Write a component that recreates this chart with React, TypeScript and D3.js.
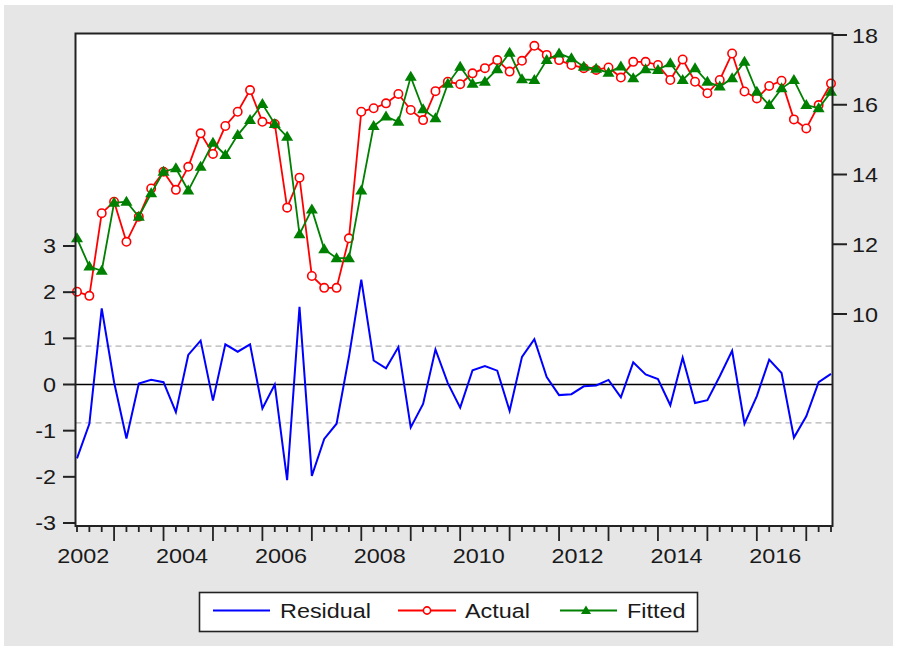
import React from "react";
import * as d3 from "d3";

// Quarterly observations 2002Q2 .. 2017Q3 (62 obs)
const startYear = 2002;
const startQuarter = 2;
const yearLabels = ["2002", "2004", "2006", "2008", "2010", "2012", "2014", "2016"];

const actual = [
  10.64, 10.52, 12.89, 13.22, 12.07, 12.79, 13.6, 14.08, 13.56, 14.22,
  15.18, 14.59, 15.39, 15.8, 16.42, 15.51, 15.45, 13.05, 13.91, 11.09,
  10.75, 10.75, 12.17, 15.8, 15.9, 16.04, 16.31, 15.85, 15.56, 16.39,
  16.66, 16.59, 16.9, 17.05, 17.28, 16.95, 17.26, 17.69, 17.43, 17.28,
  17.14, 17.05, 17.0, 17.07, 16.78, 17.23, 17.23, 17.14, 16.71, 17.3,
  16.66, 16.33, 16.71, 17.47, 16.38, 16.18, 16.54, 16.69, 15.58, 15.32,
  15.99, 16.61,
];

const fitted = [
  12.17, 11.36, 11.24, 13.19, 13.22, 12.79, 13.46, 14.08, 14.18, 13.54,
  14.22, 14.91, 14.56, 15.13, 15.56, 16.02, 15.45, 15.08, 12.29, 13.0,
  11.86, 11.6, 11.6, 13.54, 15.39, 15.66, 15.51, 16.8, 15.87, 15.61,
  16.6, 17.09, 16.6, 16.66, 17.02, 17.49, 16.73, 16.71, 17.28, 17.47,
  17.33, 17.09, 17.03, 16.92, 17.1, 16.76, 17.02, 17.0, 17.19, 16.71,
  17.05, 16.66, 16.52, 16.76, 17.23, 16.37, 15.99, 16.47, 16.71, 15.99,
  15.9, 16.37,
];

const residual = [
  -1.6, -0.85, 1.65, 0.05, -1.17, 0.02, 0.1, 0.05, -0.6, 0.64,
  0.95, -0.35, 0.87, 0.71, 0.87, -0.52, 0.0, -2.07, 1.68, -1.98,
  -1.18, -0.85, 0.6, 2.27, 0.52, 0.35, 0.81, -0.93, -0.42, 0.76,
  0.03, -0.5, 0.31, 0.4, 0.3, -0.57, 0.6, 0.98, 0.16, -0.23,
  -0.21, -0.04, -0.02, 0.1, -0.28, 0.48, 0.22, 0.12, -0.45, 0.58,
  -0.4, -0.34, 0.18, 0.73, -0.85, -0.25, 0.54, 0.25, -1.15, -0.69,
  0.05, 0.23,
];

const residualBand = 0.83;
const leftTicks = [-3, -2, -1, 0, 1, 2, 3];
const rightTicks = [10, 12, 14, 16, 18];

const W = 899;
const H = 652;
const FONT = "'Liberation Sans', Arial, sans-serif";
const SX = 1.2;

export default function App() {
  const n = actual.length;
  const frame = { left: 75.5, right: 832.5, top: 33.5, bottom: 526 };
  const x = d3.scaleLinear().domain([0, n - 1]).range([77, 831]);
  const yL = d3.scaleLinear().domain([-3, 3]).range([523, 246]);
  const yR = d3.scaleLinear().domain([10, 18]).range([314, 35]);

  const lineR = d3.line<number>().x((_, i) => x(i)).y((d) => yR(d));
  const lineL = d3.line<number>().x((_, i) => x(i)).y((d) => yL(d));

  const tri = "M0,-6L6,4L-6,4Z";
  const triSmall = "M0,-5L5,3.5L-5,3.5Z";

  // quarter index of first Q1 in data
  const firstQ1 = (5 - startQuarter) % 4;

  const text = (
    key: string,
    tx: number,
    ty: number,
    label: string,
    anchor: "start" | "middle" | "end"
  ) => (
    <text
      key={key}
      transform={`translate(${tx},${ty}) scale(${SX},1)`}
      textAnchor={anchor}
      fontFamily={FONT}
      fontSize={19.5}
      fill="#1a1a1a"
    >
      {label}
    </text>
  );

  return (
    <svg
      width={W}
      height={H}
      style={{ position: "absolute", left: 0, top: 0 }}
      xmlns="http://www.w3.org/2000/svg"
    >
      <rect x={0} y={0} width={W} height={H} fill="#ffffff" />
      <rect x={4} y={5} width={889} height={641} fill="#e6e6e6" />
      <rect
        x={frame.left}
        y={frame.top}
        width={frame.right - frame.left}
        height={frame.bottom - frame.top}
        fill="#ffffff"
      />

      {/* residual reference lines */}
      {[residualBand, -residualBand].map((v) => (
        <line
          key={"b" + v}
          x1={frame.left}
          x2={frame.right}
          y1={yL(v)}
          y2={yL(v)}
          stroke="#b4b4b4"
          strokeWidth={1.2}
          strokeDasharray="6,4"
        />
      ))}
      <line
        x1={frame.left}
        x2={frame.right}
        y1={yL(0)}
        y2={yL(0)}
        stroke="#000"
        strokeWidth={1.6}
      />

      {/* series */}
      <path d={lineL(residual) || ""} fill="none" stroke="#0000ff" strokeWidth={2} />
      <path d={lineR(actual) || ""} fill="none" stroke="#ff0000" strokeWidth={1.8} />
      {actual.map((v, i) => (
        <circle
          key={"a" + i}
          cx={x(i)}
          cy={yR(v)}
          r={4.2}
          fill="#ffffff"
          stroke="#ff0000"
          strokeWidth={1.6}
        />
      ))}
      <path d={lineR(fitted) || ""} fill="none" stroke="#008000" strokeWidth={1.8} />
      {fitted.map((v, i) => (
        <path key={"f" + i} d={tri} transform={`translate(${x(i)},${yR(v)})`} fill="#008000" />
      ))}

      {/* frame */}
      <rect
        x={frame.left}
        y={frame.top}
        width={frame.right - frame.left}
        height={frame.bottom - frame.top}
        fill="none"
        stroke="#222"
        strokeWidth={2}
      />

      {/* left axis */}
      {leftTicks.map((t) => (
        <g key={"l" + t}>
          <line x1={63} x2={frame.left} y1={yL(t)} y2={yL(t)} stroke="#222" strokeWidth={2} />
          {text("lt" + t, 56, yL(t) + 7, String(t), "end")}
        </g>
      ))}

      {/* right axis */}
      {rightTicks.map((t) => (
        <g key={"r" + t}>
          <line x1={frame.right} x2={847} y1={yR(t)} y2={yR(t)} stroke="#222" strokeWidth={2} />
          {text("rt" + t, 852, yR(t) + 7.5, String(t), "start")}
        </g>
      ))}

      {/* bottom axis ticks */}
      {d3.range(0, n).map((i) => {
        const long = (i - firstQ1) % 4 === 0;
        return (
          <line
            key={"xt" + i}
            x1={x(i)}
            x2={x(i)}
            y1={frame.bottom}
            y2={frame.bottom + (long ? 15 : 6)}
            stroke="#222"
            strokeWidth={1.8}
          />
        );
      })}
      {yearLabels.map((yl) => {
        const idx = (+yl - startYear) * 4 - (startQuarter - 1) + 1.5;
        return text("yl" + yl, x(idx), 563, yl, "middle");
      })}

      {/* legend */}
      <rect x={199.5} y={592.5} width={498} height={39} fill="#ffffff" stroke="#222" strokeWidth={1.6} />
      <line x1={213} x2={270} y1={610.5} y2={610.5} stroke="#0000ff" strokeWidth={2} />
      {text("lg1", 280, 618, "Residual", "start")}
      <line x1={398} x2={456} y1={610.5} y2={610.5} stroke="#ff0000" strokeWidth={1.8} />
      <circle cx={427} cy={610.5} r={3.6} fill="#fff" stroke="#ff0000" strokeWidth={1.6} />
      {text("lg2", 465, 618, "Actual", "start")}
      <line x1={560} x2={617} y1={610.5} y2={610.5} stroke="#008000" strokeWidth={1.8} />
      <path d={triSmall} transform="translate(586,610.5)" fill="#008000" />
      {text("lg3", 627, 618, "Fitted", "start")}
    </svg>
  );
}
